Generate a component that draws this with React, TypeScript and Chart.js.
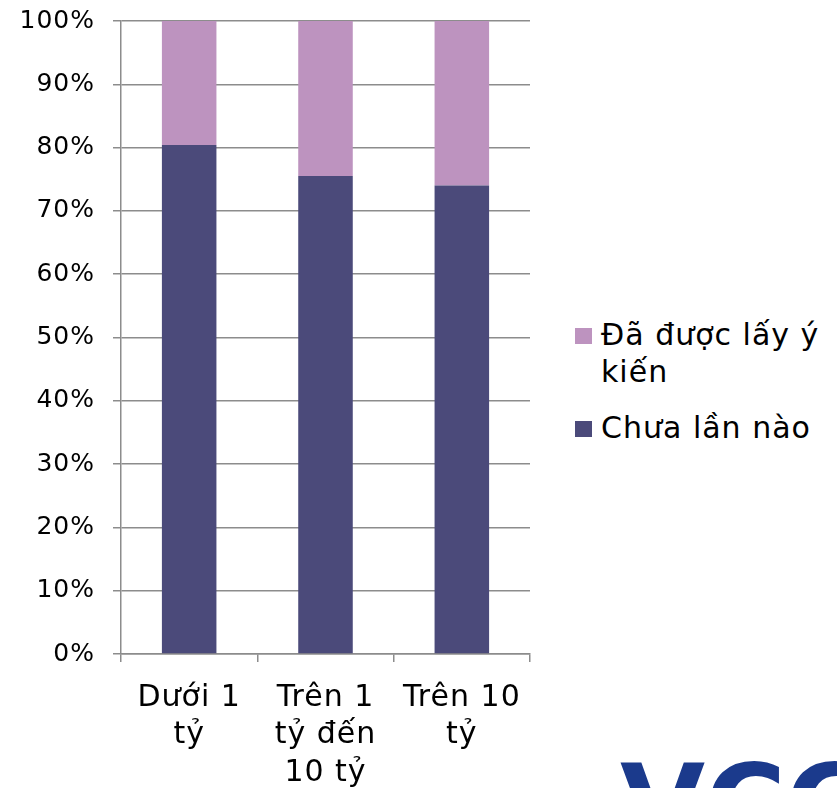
import React, { useEffect, useRef } from "react";
import { Chart, registerables } from "chart.js";

Chart.register(...registerables);

const categories: string[][] = [["Dưới 1", "tỷ"], ["Trên 1", "tỷ đến", "10 tỷ"], ["Trên 10", "tỷ"]];
const chuaLanNao: number[] = [80.4, 75.5, 74.0];
const daDuocLayYKien: number[] = [19.6, 24.5, 26.0];
const seriesNames: string[] = ["Chưa lần nào", "Đã được lấy ý kiến"];
const seriesColors: string[] = ["#4B4A7A", "#BD93BF"];
const yTicks: number[] = [0, 10, 20, 30, 40, 50, 60, 70, 80, 90, 100];

const FONT = "'DejaVu Sans', Verdana, sans-serif";

const spacingPlugin = {
  id: "letterSpacing",
  beforeUpdate(chart: any) {
    chart.ctx.letterSpacing = "1px";
  },
  beforeLayout(chart: any) {
    chart.ctx.letterSpacing = "1px";
  },
  beforeDraw(chart: any) {
    chart.ctx.letterSpacing = "1px";
  },
};

export default function App() {
  const ref = useRef<HTMLCanvasElement | null>(null);

  useEffect(() => {
    if (!ref.current) return;
    const chart = new Chart(ref.current, {
      type: "bar",
      plugins: [spacingPlugin],
      data: {
        labels: categories,
        datasets: [
          {
            label: seriesNames[0],
            data: chuaLanNao,
            backgroundColor: seriesColors[0],
            barPercentage: 0.4,
            categoryPercentage: 1,
          },
          {
            label: seriesNames[1],
            data: daDuocLayYKien,
            backgroundColor: seriesColors[1],
            barPercentage: 0.4,
            categoryPercentage: 1,
          },
        ],
      },
      options: {
        animation: false,
        responsive: false,
        maintainAspectRatio: false,
        layout: { padding: { top: 21, right: 10, left: 0, bottom: 0 } },
        plugins: {
          legend: { display: false },
          tooltip: { enabled: false },
        },
        scales: {
          x: {
            stacked: true,
            grid: {
              offset: true,
              drawOnChartArea: false,
              drawTicks: true,
              tickLength: 8,
              color: "#8c8c8c",
              lineWidth: 1.5,
            },
            border: { display: true, color: "#8c8c8c", width: 1.5 },
            ticks: {
              color: "#000",
              font: { family: FONT, size: 30, lineHeight: 1.25 },
              padding: 17,
              maxRotation: 0,
              autoSkip: false,
            },
            afterFit: (scale: any) => {
              scale.height = 134;
              scale.paddingLeft = 0;
              scale.paddingRight = 0;
            },
          },
          y: {
            stacked: true,
            min: 0,
            max: 100,
            afterBuildTicks: (scale: any) => {
              scale.ticks = yTicks.map((v) => ({ value: v }));
            },
            grid: {
              color: "#8c8c8c",
              lineWidth: 1.5,
              tickLength: 8,
            },
            border: { display: true, color: "#8c8c8c", width: 1.5 },
            ticks: {
              color: "#000",
              font: { family: FONT, size: 25 },
              padding: 18,
              callback: (v: any) => v + "%",
            },
            afterFit: (scale: any) => {
              scale.width = 121;
              scale.paddingTop = 0;
              scale.paddingBottom = 0;
            },
          },
        },
      },
    });
    return () => chart.destroy();
  }, []);

  const legendItems = [
    { name: seriesNames[1], color: seriesColors[1] },
    { name: seriesNames[0], color: seriesColors[0] },
  ];

  return (
    <div
      style={{
        position: "absolute",
        left: 0,
        top: 0,
        width: 837,
        height: 788,
        overflow: "hidden",
        background: "#fff",
        fontFamily: FONT,
      }}
    >
      <canvas ref={ref} width={540} height={788} style={{ position: "absolute", left: 0, top: 0, width: 540, height: 788 }} />
      <div style={{ position: "absolute", left: 575, top: 316, width: 262 }}>
        {legendItems.map((it, i) => (
          <div key={i} style={{ display: "flex", alignItems: "flex-start", marginBottom: 19 }}>
            <div style={{ width: 17, height: 16, background: it.color, marginTop: 11.5, flex: "none" }} />
            <div style={{ marginLeft: 9, width: 236, fontSize: 30, lineHeight: "37px", letterSpacing: "1px", color: "#000" }}>{it.name}</div>
          </div>
        ))}
      </div>
      <div
        style={{
          position: "absolute",
          left: 620,
          top: 750,
          fontSize: 110,
          lineHeight: "110px",
          fontWeight: "bold",
          color: "#1B3A8C",
          whiteSpace: "nowrap",
        }}
      >
        VCCI
      </div>
    </div>
  );
}
